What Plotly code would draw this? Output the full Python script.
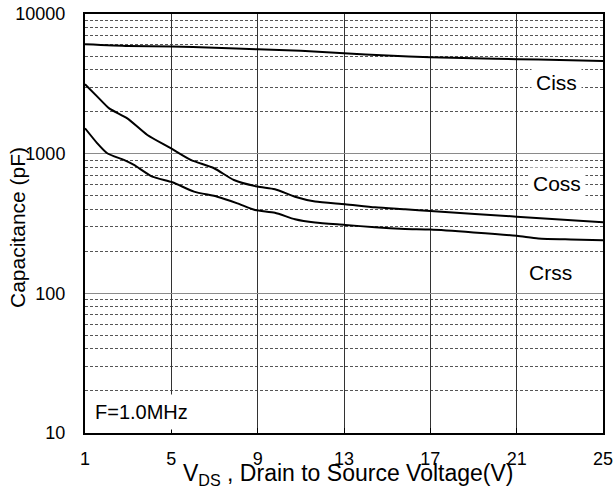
import plotly.graph_objects as go

# ---- data ----
vds_ciss = [1, 3, 5, 7, 9, 11, 13, 15, 17, 19, 21, 23, 25]
ciss = [6070, 5900, 5840, 5740, 5590, 5450, 5230, 5050, 4900, 4820, 4750, 4680, 4610]

vds_coss = [1, 1.57, 2.12, 2.96, 3.89, 4.97, 5.9, 6.98, 7.9, 8.98, 9.8, 10.73,
            11.66, 13.05, 14.44, 15.83, 17.0, 21.0, 25]
coss = [3140, 2560, 2110, 1790, 1360, 1094, 902, 786, 648, 581, 556, 492,
        454, 435, 413, 400, 389, 354, 323]

vds_crss = [1, 1.57, 2.03, 2.8, 3.27, 4.12, 5.05, 6.05, 7.13, 8.06, 8.88, 9.8,
            10.73, 11.66, 13.05, 14.44, 15.83, 17.0, 19.0, 21.0, 22.0, 23.5, 25]
crss = [1520, 1186, 1007, 902, 830, 684, 624, 535, 492, 441, 395, 378,
        339, 321, 309, 297, 289, 286, 273, 258, 247, 243, 240]

x_ticks = [1, 5, 9, 13, 17, 21, 25]
y_major = [10, 100, 1000, 10000]
y_minor = [m * d for d in (10, 100, 1000) for m in range(2, 10)]

FONT = "Arial, Liberation Sans, sans-serif"

fig = go.Figure()
for xs, ys, name in [(vds_ciss, ciss, "Ciss"), (vds_coss, coss, "Coss"), (vds_crss, crss, "Crss")]:
    fig.add_trace(go.Scatter(x=xs, y=ys, mode="lines", name=name,
                             line=dict(color="black", width=2, shape="spline", smoothing=0.6),
                             showlegend=False, hoverinfo="skip"))

fig.update_layout(
    width=616, height=489,
    margin=dict(l=85, r=13, t=14, b=56, autoexpand=False),
    paper_bgcolor="white", plot_bgcolor="white",
    font=dict(family=FONT, color="black"),
)

fig.update_xaxes(
    range=[1, 25], tickmode="array", tickvals=x_ticks, ticktext=[str(v) for v in x_ticks],
    showgrid=True, gridcolor="#333333", gridwidth=1,
    showline=True, linecolor="black", linewidth=2, mirror=True,
    ticks="inside", ticklen=5, tickcolor="black", tickwidth=1,
    tickfont=dict(size=18, family=FONT, color="black"),
    ticklabelstandoff=8, zeroline=False, automargin=False,
)
fig.update_yaxes(
    type="log", range=[1, 4], tickmode="array", tickvals=y_major,
    ticktext=[str(v) for v in y_major],
    showgrid=True, gridcolor="#8a8a8a", gridwidth=1,
    showline=True, linecolor="black", linewidth=2, mirror=True,
    ticks="", tickfont=dict(size=18, family=FONT, color="black"),
    ticklabelstandoff=14, zeroline=False, automargin=False,
    minor=dict(tickmode="array", tickvals=y_minor, showgrid=True,
               gridcolor="#555555", gridwidth=1, griddash="3px,2px", ticks=""),
)

labels = [("Ciss", 556, 82), ("Coss", 557, 183), ("Crss", 550, 272)]
for txt, px, py in labels:
    fig.add_annotation(text=txt, xref="paper", yref="paper",
                       x=(px - 85) / 518, y=(433 - py) / 419,
                       xanchor="center", yanchor="middle", showarrow=False,
                       bgcolor="white", borderpad=4,
                       font=dict(size=21, family=FONT, color="black"))

fig.add_annotation(text="F=1.0MHz", xref="paper", yref="paper",
                   x=(141 - 85) / 518, y=(433 - 411.5) / 419,
                   xanchor="center", yanchor="middle", showarrow=False,
                   bgcolor="white", borderpad=6,
                   font=dict(size=20, family=FONT, color="black"))

fig.add_annotation(text="V<sub>DS</sub> , Drain to Source Voltage(V)",
                   xref="paper", yref="paper", x=(348 - 85) / 518, y=0,
                   yanchor="top", yshift=-25, showarrow=False,
                   font=dict(size=23, family=FONT, color="black"))

fig.add_annotation(text="Capacitance (pF)", xref="paper", yref="paper",
                   x=0, xshift=-67, y=(433 - 228) / 419, textangle=-90,
                   xanchor="center", yanchor="middle", showarrow=False,
                   font=dict(size=21, family=FONT, color="black"))

fig.write_html("out.html")
